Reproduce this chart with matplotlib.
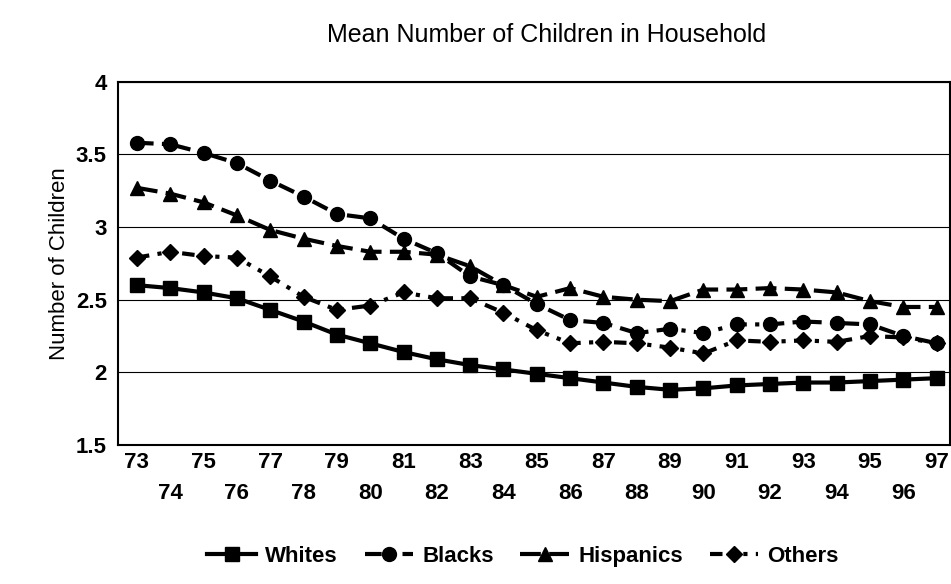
import numpy as np
from matplotlib import pyplot as plt

years = list(range(73, 98))
whites = [2.60, 2.58, 2.55, 2.51, 2.43, 2.35, 2.26, 2.20, 2.14, 2.09, 2.05, 2.02, 1.99,
          1.96, 1.93, 1.90, 1.88, 1.89, 1.91, 1.92, 1.93, 1.93, 1.94, 1.95, 1.96]
blacks = [3.58, 3.57, 3.51, 3.44, 3.32, 3.21, 3.09, 3.06, 2.92, 2.82, 2.66, 2.60, 2.47,
          2.36, 2.34, 2.27, 2.30, 2.27, 2.33, 2.33, 2.35, 2.34, 2.33, 2.25, 2.20]
hispanics = [3.27, 3.23, 3.17, 3.08, 2.98, 2.92, 2.87, 2.83, 2.83, 2.81, 2.73, 2.60, 2.52,
             2.58, 2.52, 2.50, 2.49, 2.57, 2.57, 2.58, 2.57, 2.55, 2.49, 2.45, 2.45]
others = [2.79, 2.83, 2.80, 2.79, 2.66, 2.52, 2.43, 2.46, 2.55, 2.51, 2.51, 2.41, 2.29,
          2.20, 2.21, 2.20, 2.17, 2.13, 2.22, 2.21, 2.22, 2.21, 2.25, 2.24, 2.20]

plt.rcParams['font.family'] = ['Liberation Sans', 'DejaVu Sans']

fig = plt.figure(figsize=(9.51, 5.84), dpi=100)
ax = fig.add_axes([0.124, 0.238, 0.875, 0.622])

ax.plot(years, whites, color="black", lw=3, marker="s", ms=10, label="Whites")
ax.plot(years, blacks, color="black", lw=3, marker="o", ms=10, dashes=(4, 2, 1, 2), label="Blacks")
ax.plot(years, hispanics, color="black", lw=3, marker="^", ms=10, dashes=(5, 2), label="Hispanics")
ax.plot(years, others, color="black", lw=3, marker="D", ms=8, dashes=(3, 2, 1, 2, 1, 2), label="Others")

ax.set_xlim(72.43, 97.4)
ax.set_ylim(1.5, 4)
ax.set_yticks([1.5, 2, 2.5, 3, 3.5, 4])
ax.set_yticklabels(["1.5", "2", "2.5", "3", "3.5", "4"], fontsize=16, fontweight="bold")
ax.yaxis.grid(True, color="black", lw=0.8)
ax.set_axisbelow(True)

ax.set_xticks([y for y in years if y % 2 == 1])
ax.set_xticklabels([str(y) for y in years if y % 2 == 1], fontsize=16, fontweight="bold")
ax.set_xticks([y for y in years if y % 2 == 0], minor=True)
ax.set_xticklabels([str(y) for y in years if y % 2 == 0], minor=True, fontsize=16, fontweight="bold")
ax.tick_params(axis="x", which="major", length=0, pad=5)
ax.tick_params(axis="x", which="minor", length=0, pad=27)
ax.tick_params(axis="y", length=0, pad=8)

for s in ax.spines.values():
    s.set_linewidth(1.5)

ax.set_ylabel("Number of Children", fontsize=16)
fig.text(0.575, 0.94, "Mean Number of Children in Household", ha="center", va="center", fontsize=18)

fig.legend(loc="lower center", bbox_to_anchor=(0.55, -0.005), ncol=4, frameon=False,
           prop={"size": 16, "weight": "bold"}, handlelength=2.2, columnspacing=1.2, handletextpad=0.4)

plt.savefig("out.png", dpi=100)
